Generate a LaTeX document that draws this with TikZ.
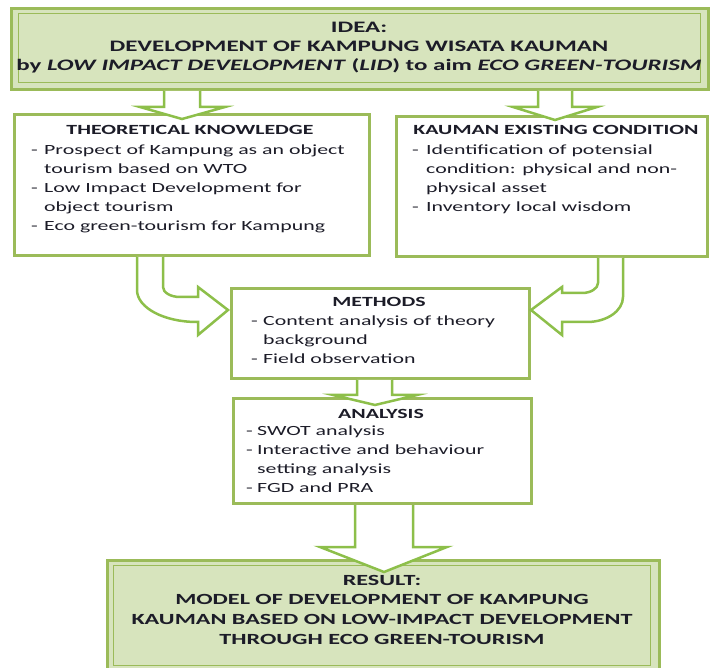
\documentclass[tikz,border=0pt]{standalone}
\usepackage{fontspec}
\setmainfont{Carlito}[FakeStretch=1.56]
\usetikzlibrary{calc}
\definecolor{grn}{HTML}{9BBB59}
\definecolor{agrn}{HTML}{8DBF4A}
\definecolor{lgrn}{HTML}{D7E4BD}
\definecolor{txt}{HTML}{1C1C28}
\newcommand\bodyfont{\fontsize{14}{19}\selectfont}
\newcommand\dsh[1][12pt]{\makebox[#1][l]{-}}
\begin{document}
\begin{tikzpicture}[x=1pt,y=-1pt,
  box/.style={draw=grn, line width=3pt, fill=white, rectangle, inner sep=0pt, anchor=north west},
  dbox/.style={box, fill=lgrn},
  inbox/.style={draw=grn, line width=1.2pt, rectangle, inner sep=0pt, anchor=north west},
  barrow/.style={draw=agrn, line width=2.5pt, fill=white, line join=miter},
  head/.style={font=\bfseries\bodyfont, inner sep=0pt, anchor=base, text=txt},
  items/.style={font=\bodyfont, inner sep=0pt, anchor=north west, align=left, text=txt},
  big/.style={font=\bfseries\fontsize{16}{19}\selectfont, inner sep=0pt, anchor=north, align=center, text=txt},
]
\useasboundingbox (0,0) rectangle (710,668);
% boxes
\node[dbox, minimum width=697pt, minimum height=81pt] (idea) at (10,7) {};
\node[inbox, minimum width=682pt, minimum height=69pt] (ideain) at (18,13) {};
\node[box, minimum width=355pt, minimum height=141pt] (theory) at (13,113) {};
\node[box, minimum width=311pt, minimum height=140pt] (kauman) at (395,115) {};
\node[box, minimum width=298pt, minimum height=90pt] (methods) at (230,287) {};
\node[box, minimum width=298pt, minimum height=105pt] (analysis) at (232,397) {};
\node[dbox, minimum width=552pt, minimum height=111pt] (result) at (106,559) {};
\node[inbox, minimum width=537pt, minimum height=100pt] (resultin) at (113,565) {};
% texts
\node[big] (ideatxt) at (359,18.7) {\strut IDEA:\\
  \strut DEVELOPMENT OF KAMPUNG WISATA KAUMAN\\
  \strut by \textit{LOW IMPACT DEVELOPMENT} (\textit{LID}) to aim \textit{ECO GREEN-TOURISM}};
\node[head] (theoryh) at (190,135) {THEORETICAL KNOWLEDGE};
\node[items] (theoryi) at (31,140.7) {\strut\dsh[13pt]Prospect of Kampung as an object\\
  \strut\hspace*{13pt}tourism based on WTO\\
  \strut\dsh[13pt]Low Impact Development for\\
  \strut\hspace*{13pt}object tourism\\
  \strut\dsh[13pt]Eco green-tourism for Kampung};
\node[head] (kaumanh) at (556,135) {KAUMAN EXISTING CONDITION};
\node[items] (kaumani) at (412,140.7) {\strut\dsh[14pt]Identification of potensial\\
  \strut\hspace*{14pt}condition: physical and non-\\
  \strut\hspace*{14pt}physical asset\\
  \strut\dsh[14pt]Inventory local wisdom};
\node[head] (methodsh) at (379,307) {METHODS};
\node[items] (methodsi) at (251,311.7) {\strut\dsh[12pt]Content analysis of theory\\
  \strut\hspace*{12pt}background\\
  \strut\dsh[12pt]Field observation};
\node[head] (analysish) at (381,418) {ANALYSIS};
\node[items] (analysisi) at (246,421.7) {\strut\dsh[11pt]SWOT analysis\\
  \strut\dsh[11pt]Interactive and behaviour\\
  \strut\hspace*{11pt}setting analysis\\
  \strut\dsh[11pt]FGD and PRA};
\node[big, font=\bfseries\fontsize{15.5}{19.7}\selectfont] (resulttxt) at (382,571.2) {\strut RESULT:\\
  \strut MODEL OF DEVELOPMENT OF KAMPUNG\\
  \strut KAUMAN BASED ON LOW-IMPACT DEVELOPMENT\\
  \strut THROUGH ECO GREEN-TOURISM};
% block arrows
\draw[barrow] (164,0 |- idea.south) -- (164,107) -- (140,107) -- (182,119) -- (225,107) -- (200,107) -- (200,0 |- idea.south);
\draw[barrow] (538,0 |- idea.south) -- (538,107) -- (513,107) -- (555,120) -- (597,107) -- (572,107) -- (572,0 |- idea.south);
\draw[barrow] (137,0 |- theory.south) -- (137,290) .. controls (137,307.7) and (163.9,322) .. (197,322) -- (198,322) -- (198,335) -- (228,310) -- (198,287) -- (198,297) -- (180,297) .. controls (170.6,297) and (163,292.5) .. (163,287) -- (163,0 |- theory.south);
\draw[barrow] (623,0 |- kauman.south) -- (623,297) .. controls (623,310.8) and (606.9,322) .. (587,322) -- (562,322) -- (562,335) -- (531,310) -- (562,287) -- (562,293) -- (582,293) .. controls (590.8,293) and (598,288.5) .. (598,283) -- (598,0 |- kauman.south);
\draw[barrow] (357,0 |- methods.south) -- (357,395) -- (333,395) -- (375,405) -- (417,395) -- (392,395) -- (392,0 |- methods.south);
\draw[barrow] (355,0 |- analysis.south) -- (355,547) -- (320,547) -- (384,572) -- (447,547) -- (413,547) -- (413,0 |- analysis.south);
\end{tikzpicture}
\end{document}
